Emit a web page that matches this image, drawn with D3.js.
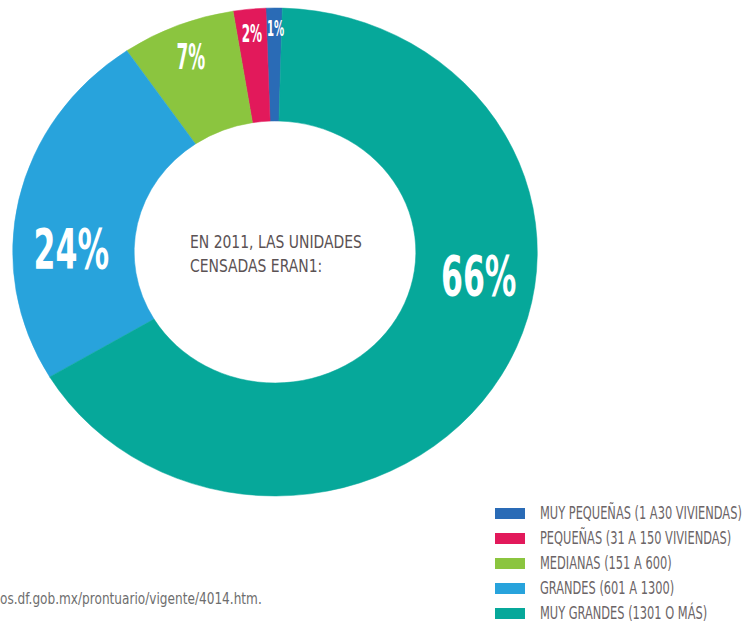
<!DOCTYPE html>
<meta charset="utf-8">
<style>
body { margin: 0; background: #fff; }
svg { display: block; }
.pct { font-family: "DejaVu Sans Condensed", sans-serif; font-weight: bold; fill: #fff; }
.center { font-family: "DejaVu Sans Condensed", sans-serif; font-size: 18px; fill: #5b5254; }
.legend text { font-family: "DejaVu Sans Condensed", sans-serif; font-size: 17px; fill: #6b6466; }
.source { font-family: "DejaVu Sans Condensed", sans-serif; font-size: 15px; fill: #6e6e6e; }
</style>
<body>
<script src="https://cdn.jsdelivr.net/npm/d3@7"></script>
<script>
// legend order
var categories = [
  "MUY PEQUEÑAS (1 A30 VIVIENDAS)",
  "PEQUEÑAS (31 A 150 VIVIENDAS)",
  "MEDIANAS (151 A 600)",
  "GRANDES (601 A 1300)",
  "MUY GRANDES (1301 O MÁS)"
];
var values = [1, 2, 7, 24, 66];
var labels = ["1%", "2%", "7%", "24%", "66%"];
var centerLines = ["EN 2011, LAS UNIDADES", "CENSADAS ERAN1:"];
var sourceText = "os.df.gob.mx/prontuario/vigente/4014.htm.";

var colors = ["#2a6bb6", "#e2195b", "#8bc53f", "#28a3dc", "#06a89a"];

var width = 748, height = 626;
var cx = 275, cy = 252, outerR = 244, innerR = 131, sx = 1.075;
var off = 1.6 * Math.PI / 180;

var svg = d3.select("body").append("svg")
    .attr("width", width)
    .attr("height", height);

var color = d3.scaleOrdinal().domain(categories).range(colors);

// counter-clockwise from the top, so the biggest slice ends up on the right
var pie = d3.pie()
    .sort(null)
    .value(function(d) { return d.value; })
    .startAngle(2 * Math.PI + off)
    .endAngle(off);

var data = categories.map(function(c, i) { return {name: c, value: values[i], label: labels[i]}; });
var arcs = pie(data);

var arc = d3.arc().innerRadius(innerR).outerRadius(outerR);

var donut = svg.append("g")
    .attr("transform", "translate(" + cx + "," + cy + ") scale(" + sx + ",1)");

donut.selectAll("path")
    .data(arcs)
  .enter().append("path")
    .attr("d", arc)
    .attr("fill", function(d) { return color(d.data.name); })
    .attr("stroke", function(d) { return color(d.data.name); })
    .attr("stroke-width", 0.5);

function fontSize(v) { return v >= 20 ? 56 : v >= 5 ? 35 : v >= 2 ? 25 : 21; }

function labelPos(d) {
  var a0 = Math.min(d.startAngle, d.endAngle), a1 = Math.max(d.startAngle, d.endAngle);
  var mid = (a0 + a1) / 2, r;
  if (a1 - a0 > Math.PI / 3) {
    // big slices: label sits on the horizontal midline of the ring
    var side = Math.sin(mid) > 0 ? 1 : -1;
    r = (innerR + outerR) / 2 + 2;
    return [side * r * sx, side > 0 ? 23 : -4];
  }
  r = outerR - fontSize(d.data.value) * 0.95;
  return [Math.sin(mid) * r * sx + (d.data.value < 2 ? 1.5 : 0), -Math.cos(mid) * r];
}

// squeeze horizontally so the widest text of the set is `target` px wide
function squeezeK(sel, target) {
  var w = 0;
  sel.each(function() { w = Math.max(w, this.getComputedTextLength()); });
  return target / w;
}

var pct = svg.append("g")
    .attr("transform", "translate(" + cx + "," + cy + ")")
  .selectAll("text")
    .data(arcs)
  .enter().append("text")
    .attr("class", "pct")
    .attr("text-anchor", "middle")
    .attr("dy", "0.36em")
    .style("font-size", function(d) { return fontSize(d.data.value) + "px"; })
    .text(function(d) { return d.data.label; });

pct.attr("transform", function(d) {
  var p = labelPos(d);
  var f = d.data.value >= 20 ? 0.45 : 0.41;
  var k = d.data.label.length * f * fontSize(d.data.value) / this.getComputedTextLength();
  return "translate(" + p[0] + "," + p[1] + ") scale(" + k + ",1)";
});

var centerG = svg.append("g");
var center = centerG.selectAll("text")
    .data(centerLines)
  .enter().append("text")
    .attr("class", "center")
    .attr("y", function(d, i) { return i * 24; })
    .text(function(d) { return d; });
centerG.attr("transform", "translate(190,248) scale(" + squeezeK(center, 172) + ",1)");

var legend = svg.append("g")
    .attr("class", "legend")
    .attr("transform", "translate(495,513)");

var row = legend.selectAll("g")
    .data(categories)
  .enter().append("g")
    .attr("transform", function(d, i) { return "translate(0," + i * 25 + ")"; });

row.append("rect")
    .attr("x", 0)
    .attr("y", -5)
    .attr("width", 30)
    .attr("height", 11)
    .attr("fill", function(d) { return color(d); });

var legendText = row.append("text")
    .attr("dy", "0.36em")
    .text(function(d) { return d; });
var lk = squeezeK(legendText, 202);
legendText.attr("transform", "translate(45,0) scale(" + lk + ",1)");

var source = svg.append("text")
    .attr("class", "source")
    .text(sourceText);
source.attr("transform", "translate(0,604) scale(" + squeezeK(source, 262) + ",1)");
</script>
